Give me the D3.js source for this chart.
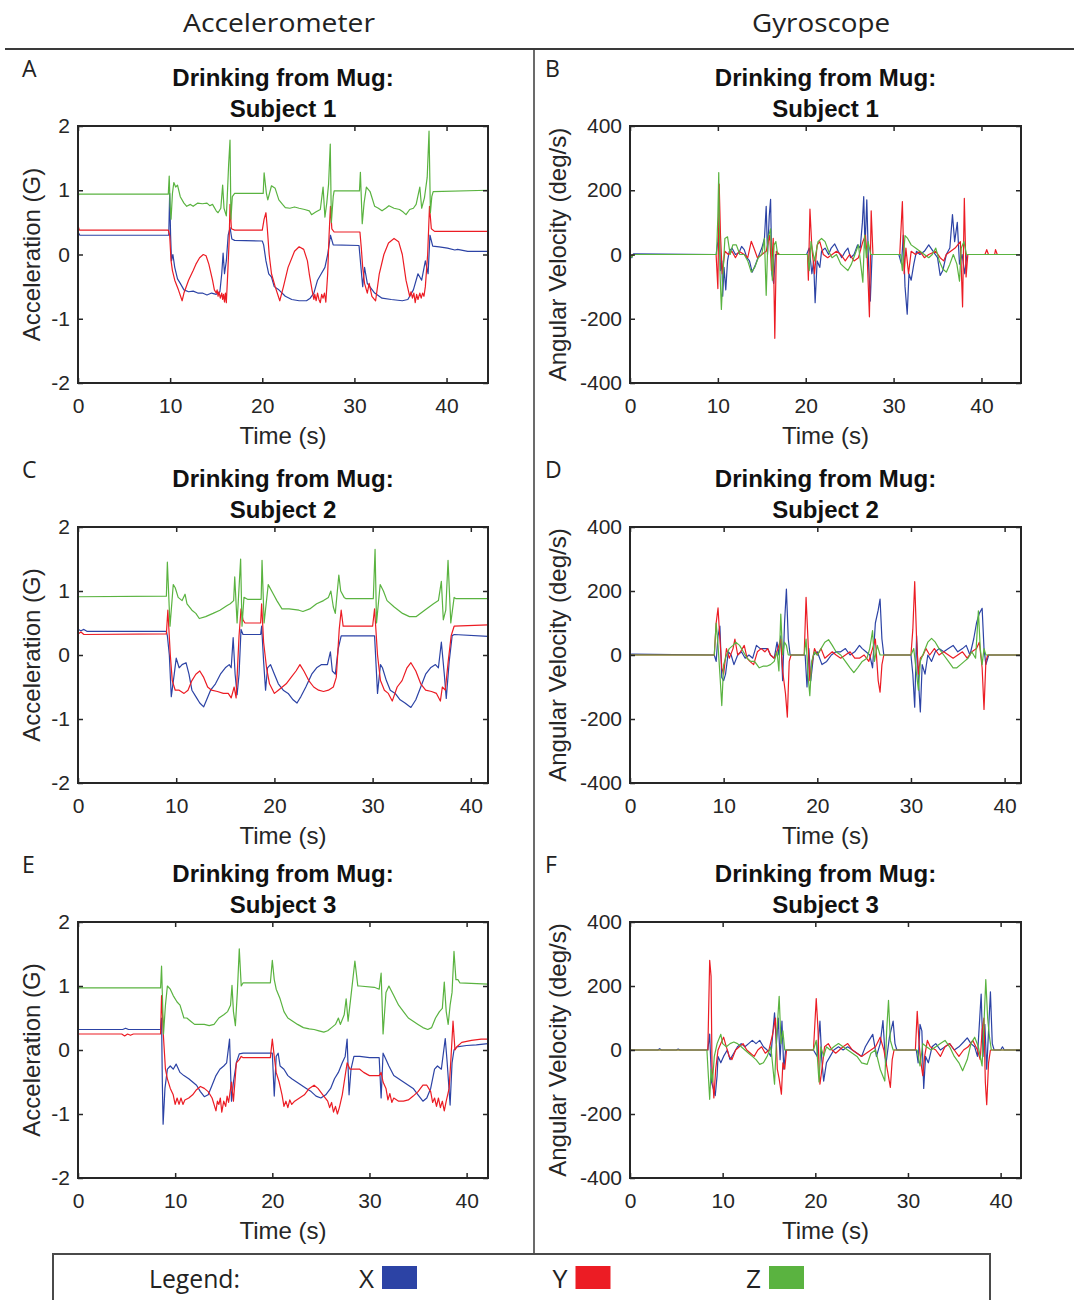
<!DOCTYPE html>
<html>
<head>
<meta charset="utf-8">
<script src="https://cdn.jsdelivr.net/npm/d3@7"></script>
<style>
  body { margin: 0; background: #fff; }
  svg { display: block; }
</style>
</head>
<body>
<div id="chart"></div>
<script>
// ---- data: [time (s), value] ----
const timeTicks = [0, 10, 20, 30, 40]
const accTicks = [-2, -1, 0, 1, 2]
const gyroTicks = [-400, -200, 0, 200, 400]
const subjects = ["Subject 1", "Subject 2", "Subject 3"]
const timeMax = [44.5, 41.75, 42.2]
const axisNames = ["X", "Y", "Z"]
const axisColours = ["#2c43a5", "#ec1c24", "#5ab340"]

// Subject 1 accelerometer (G)
const s1AccX = [[0,0.35],[0.2,0.3],[9.85,0.3],[9.95,0.95],[10.05,0.3],[10.15,-0.1],[10.3,0.0],[10.5,-0.2],[10.8,-0.38],[11.1,-0.45],[11.5,-0.55],[12,-0.58],[12.5,-0.57],[13,-0.6],[13.5,-0.6],[14,-0.63],[14.5,-0.6],[15,-0.62],[15.4,-0.58],[15.6,-0.3],[15.75,0.02],[15.9,-0.3],[16.1,-0.1],[16.3,0.3],[16.5,0.42],[16.7,0.24],[17,0.22],[20,0.21],[20.15,0.15],[20.4,-0.1],[20.7,-0.3],[21,-0.35],[21.3,-0.5],[21.8,-0.55],[22.5,-0.65],[23.2,-0.7],[24,-0.72],[24.8,-0.72],[25.2,-0.68],[25.6,-0.6],[26,-0.4],[26.4,-0.3],[26.8,-0.2],[27.1,0.0],[27.4,0.3],[27.7,0.15],[30.5,0.14],[30.65,-0.1],[30.9,-0.5],[31.1,-0.2],[31.4,-0.45],[32.2,-0.6],[33,-0.68],[34,-0.7],[35.2,-0.72],[35.8,-0.7],[36.4,-0.55],[36.9,-0.3],[37.3,-0.4],[37.7,-0.1],[38,-0.3],[38.2,0.3],[38.5,0.13],[39.2,0.12],[40.1,0.1],[40.9,0.07],[41.2,0.08],[42.3,0.05],[44.5,0.05]]
const s1AccY = [[0,0.45],[0.15,0.38],[9.8,0.38],[9.95,0.3],[10.1,-0.1],[10.25,-0.25],[10.5,-0.4],[10.9,-0.55],[11.3,-0.72],[11.5,-0.6],[12,-0.4],[12.5,-0.25],[12.8,-0.15],[13.2,-0.05],[13.6,0.0],[13.9,-0.02],[14.2,-0.15],[14.6,-0.4],[14.8,-0.55],[15,-0.6],[15.1,-0.55],[15.2,-0.65],[15.3,-0.58],[15.45,-0.68],[15.6,-0.6],[15.7,-0.7],[15.8,-0.62],[15.9,-0.74],[16,-0.6],[16.1,-0.75],[16.25,-0.3],[16.4,0.2],[16.5,0.78],[16.65,0.4],[17,0.38],[20,0.38],[20.2,0.55],[20.4,0.65],[20.55,0.4],[20.75,0.0],[21,-0.3],[21.4,-0.5],[21.9,-0.72],[22.3,-0.5],[22.8,-0.2],[23.5,0.05],[24,0.12],[24.5,0.08],[24.9,-0.1],[25.1,-0.3],[25.4,-0.55],[25.6,-0.7],[25.7,-0.62],[25.85,-0.72],[26,-0.6],[26.15,-0.7],[26.3,-0.75],[26.45,-0.62],[26.6,-0.68],[26.75,-0.6],[26.9,-0.74],[27.1,-0.3],[27.25,0.3],[27.4,0.75],[27.55,0.4],[27.8,0.35],[30.6,0.35],[30.75,0.1],[30.9,-0.2],[31.1,-0.45],[31.4,-0.6],[31.6,-0.45],[31.9,-0.65],[32.3,-0.72],[32.7,-0.3],[33.2,0.0],[33.7,0.18],[34.3,0.25],[34.8,0.2],[35.2,0.0],[35.6,-0.4],[36,-0.65],[36.15,-0.58],[36.3,-0.68],[36.45,-0.6],[36.6,-0.75],[36.75,-0.62],[36.9,-0.7],[37.1,-0.6],[37.25,-0.68],[37.4,-0.6],[37.55,-0.65],[37.7,-0.5],[37.95,0.0],[38.15,0.75],[38.35,0.4],[38.7,0.36],[44.5,0.36]]
const s1AccZ = [[0,0.9],[0.1,0.94],[9.8,0.94],[9.9,1.22],[10.0,0.75],[10.1,0.55],[10.25,0.95],[10.4,1.12],[10.6,1.05],[10.8,1.08],[11.1,0.9],[11.5,0.8],[11.8,0.75],[12.2,0.78],[12.5,0.75],[13,0.8],[13.5,0.79],[14,0.8],[14.3,0.76],[14.6,0.78],[15,0.68],[15.2,0.65],[15.5,0.72],[15.7,1.08],[15.85,0.72],[16.1,0.6],[16.2,0.9],[16.35,1.4],[16.5,1.78],[16.6,0.55],[16.75,0.9],[17,0.95],[20.1,0.95],[20.2,1.27],[20.45,0.95],[20.6,0.85],[21,1.07],[21.4,1.03],[21.8,0.85],[22.2,0.78],[22.5,0.73],[23,0.72],[23.5,0.74],[24,0.72],[24.6,0.7],[25.1,0.68],[25.35,0.62],[25.8,0.66],[26.3,0.7],[26.6,1.05],[26.8,0.58],[27.0,0.8],[27.2,1.1],[27.38,1.72],[27.5,0.5],[27.7,0.9],[27.8,0.99],[30.55,0.99],[30.65,1.28],[30.85,0.48],[31.05,0.8],[31.3,1.05],[31.7,0.98],[32.2,0.75],[32.6,0.72],[33,0.68],[33.4,0.72],[33.75,0.76],[34.3,0.72],[34.9,0.7],[35.3,0.66],[35.6,0.62],[36,0.7],[36.4,0.72],[36.7,0.78],[37.1,1.05],[37.3,0.72],[37.6,0.88],[37.9,1.2],[38.1,1.92],[38.25,0.65],[38.4,0.9],[38.55,0.98],[44.5,1.0]]

// Subject 1 gyroscope (deg/s)
const s1GyrX = [[0,0],[0.2,-10],[0.4,2],[9.8,0],[10.0,40],[10.15,80],[10.3,-50],[10.45,-20],[10.55,-130],[10.7,-40],[10.9,-110],[11.1,-20],[11.3,10],[11.6,20],[12,0],[12.4,5],[12.7,25],[13.0,15],[13.3,-10],[13.6,-20],[13.9,-55],[14.3,-30],[14.7,0],[15.0,20],[15.3,50],[15.5,150],[15.65,0],[15.85,120],[16.0,172],[16.15,-60],[16.35,-90],[16.55,0],[17,0],[20.1,0],[20.4,20],[20.7,-60],[20.9,-20],[21.07,-150],[21.3,-20],[21.6,-40],[21.8,10],[22.2,20],[22.6,0],[22.9,20],[23.3,33],[23.7,10],[24.1,-10],[24.5,10],[24.8,20],[25.1,-10],[25.5,0],[25.9,30],[26.2,20],[26.45,100],[26.6,180],[26.75,20],[26.95,170],[27.15,-30],[27.35,-145],[27.55,0],[30.6,0],[30.9,-30],[31.1,60],[31.3,-100],[31.55,-186],[31.75,-60],[32.0,-80],[32.3,-30],[32.6,10],[33.0,0],[33.5,10],[34.0,30],[34.5,10],[35.0,-10],[35.3,-65],[35.6,-50],[36.0,0],[36.4,20],[36.7,124],[36.95,40],[37.25,100],[37.5,-30],[37.8,0],[38.1,-60],[38.35,0],[44.5,0]]
const s1GyrY = [[0,0],[0.2,-6],[0.4,0],[9.8,0],[10.0,-106],[10.15,219],[10.3,60],[10.5,-60],[10.8,10],[11.2,0],[11.6,10],[12,-10],[12.4,10],[13,0],[13.4,-10],[13.8,41],[14.1,20],[14.5,-10],[15,0],[15.5,10],[15.9,60],[16.1,-50],[16.3,50],[16.48,-261],[16.65,10],[17,0],[20.2,0],[20.3,-80],[20.48,141],[20.7,20],[21.0,-60],[21.3,30],[21.6,40],[22,0],[22.5,-10],[23,0],[23.5,10],[24,0],[24.5,-20],[25,0],[25.5,-20],[26,-10],[26.5,40],[26.8,60],[27.0,-10],[27.25,-194],[27.45,136],[27.65,0],[30.7,0],[31.0,165],[31.2,-60],[31.4,20],[31.7,-60],[32,10],[32.5,0],[33,10],[33.5,-10],[34,0],[34.8,10],[35.3,-10],[35.7,-20],[36,0],[36.5,10],[37,20],[37.3,30],[37.6,40],[37.85,-163],[38.05,175],[38.25,-70],[38.45,0],[40.4,0],[40.6,15],[40.8,0],[41.5,0],[41.6,15],[41.8,0],[44.5,0]]
const s1GyrZ = [[0,0],[0.2,-8],[0.4,0],[9.85,0],[10.0,120],[10.1,255],[10.25,-60],[10.4,-171],[10.6,-50],[10.8,50],[11.1,55],[11.4,0],[11.7,30],[12.1,30],[12.5,0],[13,0],[13.4,-20],[13.8,-55],[14.2,-40],[14.6,-10],[15,0],[15.3,50],[15.5,-127],[15.7,50],[16.0,80],[16.2,-80],[16.4,30],[16.6,40],[16.8,0],[20.2,0],[20.4,-50],[20.6,40],[21,-20],[21.4,40],[21.8,50],[22.2,40],[22.6,10],[23,-10],[23.5,0],[24,-30],[24.4,-40],[24.8,-50],[25.2,-30],[25.6,0],[26,30],[26.5,-86],[26.7,60],[26.9,-10],[27.1,40],[27.4,0],[30.8,0],[31.0,-50],[31.3,59],[31.6,50],[32,30],[32.5,20],[33,10],[33.5,0],[34,-10],[34.4,0],[34.8,20],[35.2,-20],[35.6,-45],[36,-55],[36.4,-30],[36.8,0],[37.2,-30],[37.5,-83],[37.7,20],[38.0,40],[38.3,0],[44.5,0]]

// Subject 2 accelerometer (G)
const s2AccX = [[0,0.4],[0.3,0.38],[0.6,0.4],[0.9,0.37],[9.0,0.37],[9.1,0.3],[9.3,0.0],[9.5,-0.65],[9.8,-0.3],[10.0,-0.05],[10.3,-0.2],[10.6,-0.15],[11.0,-0.12],[11.3,-0.3],[11.6,-0.55],[12.0,-0.65],[12.4,-0.75],[12.8,-0.81],[13.1,-0.7],[13.5,-0.55],[14.0,-0.45],[14.5,-0.3],[15.0,-0.2],[15.4,-0.15],[15.6,-0.2],[15.8,0.27],[16.0,-0.3],[16.2,-0.62],[16.4,-0.3],[16.6,0.4],[16.8,0.32],[18.6,0.32],[18.7,0.45],[18.9,-0.1],[19.1,-0.55],[19.3,-0.2],[19.6,-0.15],[20.0,-0.3],[20.4,-0.45],[20.9,-0.55],[21.4,-0.6],[21.9,-0.7],[22.3,-0.75],[22.7,-0.65],[23.2,-0.5],[23.8,-0.3],[24.3,-0.2],[24.8,-0.15],[25.4,-0.15],[25.7,0.05],[25.9,-0.25],[26.2,-0.3],[26.5,0.1],[26.8,0.3],[30.0,0.3],[30.2,0.3],[30.5,-0.6],[30.8,-0.15],[31.0,-0.2],[31.4,-0.4],[31.8,-0.55],[32.3,-0.6],[32.8,-0.7],[33.3,-0.75],[33.9,-0.82],[34.4,-0.7],[34.9,-0.5],[35.4,-0.3],[35.9,-0.2],[36.4,-0.15],[36.7,-0.2],[37.0,0.2],[37.3,-0.3],[37.5,-0.68],[37.8,-0.1],[38.1,0.3],[38.3,0.32],[41.75,0.29]]
const s2AccY = [[0,0.33],[0.3,0.36],[0.6,0.32],[9.0,0.33],[9.15,0.7],[9.4,0.0],[9.6,-0.4],[9.9,-0.55],[10.3,-0.55],[10.8,-0.6],[11.2,-0.55],[11.6,-0.4],[12.0,-0.3],[12.4,-0.25],[12.8,-0.35],[13.2,-0.5],[13.6,-0.55],[14.2,-0.57],[14.8,-0.6],[15.3,-0.6],[15.6,-0.67],[15.9,-0.5],[16.1,-0.67],[16.4,0.3],[16.6,0.72],[16.8,0.55],[17.0,0.5],[18.6,0.5],[18.7,0.8],[18.9,0.2],[19.2,-0.2],[19.5,-0.45],[20.0,-0.6],[20.4,-0.55],[20.8,-0.5],[21.2,-0.45],[21.7,-0.35],[22.2,-0.25],[22.6,-0.15],[23.0,-0.25],[23.5,-0.4],[24.0,-0.5],[24.5,-0.55],[25.0,-0.57],[25.5,-0.55],[26.0,-0.5],[26.3,-0.35],[26.6,0.4],[26.8,0.7],[27.0,0.45],[30.0,0.45],[30.2,0.72],[30.5,0.0],[30.8,-0.4],[31.2,-0.55],[31.6,-0.6],[32.0,-0.72],[32.5,-0.5],[33.0,-0.4],[33.5,-0.2],[33.9,-0.12],[34.4,-0.25],[34.9,-0.45],[35.4,-0.55],[36.0,-0.57],[36.5,-0.6],[36.9,-0.72],[37.1,-0.5],[37.4,-0.55],[37.7,-0.1],[38.0,0.3],[38.3,0.45],[41.75,0.47]]
const s2AccZ = [[0,0.91],[9.0,0.92],[9.1,1.45],[9.37,0.45],[9.7,1.1],[9.9,1.05],[10.2,0.9],[10.6,0.85],[10.9,0.95],[11.1,0.8],[11.6,0.7],[12.0,0.65],[12.35,0.57],[13.0,0.6],[13.75,0.65],[14.45,0.7],[15.15,0.77],[15.5,0.8],[15.85,0.85],[15.96,1.22],[16.2,0.5],[16.56,1.5],[16.7,0.45],[16.9,0.9],[17.26,0.87],[18.65,0.87],[18.74,1.48],[18.95,0.5],[19.37,1.1],[19.9,0.95],[20.25,0.85],[20.77,0.72],[21.5,0.72],[22.5,0.7],[22.9,0.68],[23.6,0.72],[24.3,0.8],[25.0,0.85],[25.5,0.9],[25.75,1.0],[26.0,0.75],[26.2,0.65],[26.56,1.25],[26.75,1.0],[27.1,0.9],[27.3,0.88],[30.07,0.88],[30.25,1.65],[30.4,0.5],[30.77,1.1],[31.1,1.0],[31.47,0.85],[32.2,0.75],[33.05,0.65],[33.75,0.6],[34.45,0.6],[35.3,0.7],[36.2,0.8],[36.7,0.85],[37.0,1.15],[37.2,0.55],[37.45,0.7],[37.68,1.48],[37.96,0.5],[38.3,0.9],[38.5,0.88],[41.75,0.88]]

// Subject 2 gyroscope (deg/s)
const s2GyrX = [[0,0],[0.2,3],[9.0,0],[9.2,-20],[9.4,60],[9.6,90],[9.8,-70],[10.0,-80],[10.2,-60],[10.5,10],[10.8,0],[11.1,-30],[11.5,0],[11.9,10],[12.3,-10],[12.7,0],[13.1,-10],[13.5,30],[13.9,20],[14.3,20],[14.7,20],[15.0,0],[15.4,-10],[15.7,40],[15.9,0],[16.1,60],[16.3,-80],[16.5,100],[16.7,206],[16.9,50],[17.1,0],[18.7,0],[18.9,-100],[19.1,20],[19.3,-80],[19.6,0],[20.0,10],[20.5,-30],[21,-20],[21.5,0],[22,10],[22.5,10],[23,20],[23.5,0],[24,10],[24.5,30],[24.8,20],[25.2,10],[25.6,0],[25.9,-40],[26.2,100],[26.5,140],[26.7,175],[26.9,50],[27.1,0],[30.0,0],[30.2,-60],[30.4,-163],[30.6,60],[30.8,-80],[31.0,-178],[31.2,-30],[31.5,-60],[31.8,0],[32.2,-20],[32.6,10],[33,20],[33.5,10],[34,20],[34.5,30],[35,10],[35.5,20],[35.9,30],[36.3,0],[36.7,50],[37,100],[37.3,130],[37.6,146],[37.8,20],[38,-30],[38.3,0],[41.75,0]]
const s2GyrY = [[0,0],[9.0,0],[9.2,100],[9.4,147],[9.6,50],[9.8,-40],[10.0,-60],[10.3,20],[10.6,-10],[11.0,20],[11.2,50],[11.5,0],[11.8,10],[12.2,30],[12.5,-10],[12.8,-20],[13.2,-30],[13.6,10],[14.0,20],[14.4,10],[14.7,20],[15.0,0],[15.4,-10],[15.8,20],[16.1,50],[16.3,-50],[16.6,-120],[16.8,-194],[17.0,-20],[17.2,0],[18.6,0],[18.8,180],[19.0,50],[19.2,-80],[19.4,-30],[19.7,20],[20.0,0],[20.4,20],[20.8,-10],[21.2,0],[21.6,10],[22.0,0],[22.5,-10],[23,0],[23.5,10],[24,-10],[24.5,-10],[25,0],[25.5,-20],[25.9,20],[26.2,50],[26.5,-80],[26.7,-116],[26.9,-30],[27.1,0],[30.0,0],[30.2,80],[30.4,229],[30.6,50],[30.8,-60],[31.0,-10],[31.3,0],[31.6,20],[32.0,0],[32.5,20],[33,0],[33.5,10],[34,0],[34.5,-10],[35,0],[35.5,10],[36,-10],[36.5,10],[37,20],[37.3,40],[37.6,-40],[37.8,-170],[38,-20],[38.2,0],[41.75,0]]
const s2GyrZ = [[0,0],[9.0,0],[9.2,100],[9.4,30],[9.6,-60],[9.8,-158],[10.0,-30],[10.3,0],[10.6,20],[11,30],[11.3,40],[11.7,30],[12.1,10],[12.5,-10],[12.9,-20],[13.3,-20],[13.8,-40],[14.2,-35],[14.6,-35],[15.0,-30],[15.4,-20],[15.7,10],[15.9,-50],[16.1,128],[16.3,0],[16.5,40],[16.7,30],[16.9,0],[18.6,0],[18.8,50],[19.0,-60],[19.2,-127],[19.4,-20],[19.7,10],[20.0,0],[20.4,20],[20.8,40],[21.2,48],[21.6,30],[22,10],[22.5,0],[23,-20],[23.5,-40],[23.9,-55],[24.3,-40],[24.8,-20],[25.3,-10],[25.6,20],[25.9,76],[26.1,-20],[26.4,30],[26.7,0],[30.0,0],[30.3,20],[30.6,-60],[30.8,-110],[31.0,-20],[31.4,10],[31.8,40],[32.2,52],[32.6,40],[33,20],[33.5,0],[34,-20],[34.5,-40],[34.9,-40],[35.3,-30],[35.7,-20],[36.1,-10],[36.5,10],[36.9,-10],[37.2,138],[37.4,20],[37.6,-30],[37.8,20],[38,0],[41.75,0]]

// Subject 3 accelerometer (G)
const s3AccX = [[0,0.32],[4.6,0.32],[4.9,0.34],[5.2,0.32],[8.5,0.32],[8.6,0.5],[8.68,-0.5],[8.76,-1.16],[8.95,-0.6],[9.2,-0.3],[9.5,-0.25],[9.8,-0.3],[10.1,-0.22],[10.5,-0.35],[10.9,-0.4],[11.4,-0.45],[11.8,-0.5],[12.2,-0.55],[12.6,-0.65],[13.0,-0.73],[13.4,-0.7],[13.8,-0.55],[14.2,-0.4],[14.6,-0.3],[15.0,-0.25],[15.3,-0.2],[15.6,0.17],[15.8,-0.8],[16.0,-0.5],[16.3,-0.2],[16.6,-0.06],[17.0,-0.05],[20.0,-0.05],[20.2,-0.72],[20.4,-0.1],[20.6,-0.05],[20.8,-0.25],[21.2,-0.3],[21.6,-0.4],[22.0,-0.45],[22.5,-0.5],[23.0,-0.55],[23.5,-0.6],[24.0,-0.65],[24.5,-0.72],[25.0,-0.75],[25.5,-0.7],[26.0,-0.6],[26.4,-0.45],[26.8,-0.35],[27.2,-0.2],[27.5,-0.1],[27.7,0.17],[27.9,-0.7],[28.1,-0.3],[28.4,-0.1],[29.0,-0.1],[30.0,-0.12],[31.0,-0.12],[31.2,-0.75],[31.4,-0.05],[31.7,-0.15],[32.0,-0.25],[32.5,-0.4],[33.0,-0.45],[33.5,-0.5],[34.0,-0.55],[34.5,-0.6],[35.0,-0.7],[35.5,-0.8],[35.9,-0.75],[36.3,-0.6],[36.7,-0.3],[37.0,-0.25],[37.4,-0.3],[37.8,0.18],[38.0,-0.2],[38.3,-0.86],[38.5,-0.2],[38.7,0.0],[39.0,0.05],[40,0.07],[41,0.08],[42.2,0.1]]
const s3AccY = [[0,0.25],[4.5,0.25],[4.8,0.22],[5.1,0.25],[5.4,0.23],[5.7,0.25],[8.5,0.25],[8.6,0.85],[8.8,0.2],[9.0,-0.3],[9.2,-0.45],[9.5,-0.6],[9.8,-0.7],[10.0,-0.85],[10.2,-0.75],[10.4,-0.85],[10.6,-0.75],[10.8,-0.85],[11.0,-0.78],[11.4,-0.75],[11.8,-0.7],[12.2,-0.62],[12.6,-0.57],[13.0,-0.6],[13.4,-0.65],[13.8,-0.75],[14.0,-0.85],[14.2,-0.95],[14.35,-0.8],[14.5,-0.85],[14.65,-0.75],[14.8,-0.97],[15.0,-0.8],[15.2,-0.88],[15.35,-0.72],[15.5,-0.82],[15.8,-0.5],[16.0,-0.8],[16.3,-0.2],[16.6,-0.15],[16.8,-0.1],[17.0,-0.12],[19.8,-0.12],[20.0,0.17],[20.2,-0.1],[20.4,-0.35],[20.7,-0.5],[21.0,-0.7],[21.2,-0.88],[21.4,-0.8],[21.6,-0.9],[21.8,-0.78],[22.0,-0.85],[22.3,-0.8],[22.8,-0.75],[23.3,-0.7],[23.8,-0.6],[24.3,-0.55],[24.7,-0.6],[25.2,-0.7],[25.7,-0.8],[25.9,-0.9],[26.1,-0.82],[26.3,-0.97],[26.5,-0.88],[26.7,-1.0],[26.9,-0.9],[27.2,-0.7],[27.4,-0.5],[27.7,-0.2],[28.0,-0.3],[28.5,-0.3],[29.0,-0.3],[29.4,-0.35],[30.0,-0.4],[30.5,-0.4],[31.0,-0.4],[31.2,-0.35],[31.4,-0.5],[31.7,-0.6],[31.9,-0.78],[32.1,-0.68],[32.3,-0.82],[32.5,-0.75],[33.0,-0.8],[33.5,-0.8],[34.0,-0.78],[34.5,-0.72],[35.0,-0.65],[35.5,-0.55],[35.9,-0.55],[36.3,-0.65],[36.5,-0.82],[36.7,-0.75],[36.9,-0.88],[37.1,-0.75],[37.3,-0.9],[37.5,-0.8],[37.7,-0.95],[37.9,-0.8],[38.2,-0.6],[38.4,-0.1],[38.6,0.45],[38.8,0.0],[39.0,0.05],[39.5,0.12],[40.5,0.15],[41.5,0.17],[42.2,0.17]]
const s3AccZ = [[0,0.97],[8.5,0.97],[8.6,1.31],[8.8,0.25],[9.0,0.7],[9.2,1.0],[9.5,0.95],[9.8,0.85],[10.2,0.75],[10.5,0.7],[10.9,0.5],[11.2,0.5],[11.6,0.45],[12.0,0.4],[12.5,0.4],[13.0,0.4],[13.5,0.38],[14.0,0.4],[14.5,0.5],[15.0,0.55],[15.4,0.6],[15.7,0.7],[15.85,1.01],[16.0,0.6],[16.2,0.38],[16.4,0.9],[16.6,1.58],[16.8,1.0],[17.0,1.05],[19.8,1.05],[20.0,1.4],[20.2,1.1],[20.4,0.95],[20.8,0.8],[21.2,0.6],[21.6,0.5],[22.1,0.45],[22.6,0.4],[23.2,0.35],[23.8,0.33],[24.3,0.32],[24.8,0.3],[25.3,0.28],[25.7,0.3],[26.1,0.35],[26.5,0.4],[26.8,0.5],[27.0,0.4],[27.4,0.55],[27.6,0.8],[27.8,0.45],[28.1,0.85],[28.5,1.39],[28.8,1.0],[29.0,1.0],[30.5,0.98],[31.0,0.95],[31.2,1.2],[31.4,0.25],[31.7,0.9],[32.0,1.0],[32.5,0.85],[33.0,0.7],[33.5,0.6],[34.0,0.5],[34.5,0.45],[35.0,0.4],[35.5,0.35],[36.0,0.32],[36.4,0.35],[36.8,0.5],[37.2,0.6],[37.5,0.65],[37.7,1.06],[37.9,0.6],[38.1,0.4],[38.3,0.7],[38.5,0.9],[38.7,1.54],[38.9,1.1],[39.1,1.1],[39.3,1.05],[42.2,1.03]]

// Subject 3 gyroscope (deg/s)
const s3GyrX = [[0,0],[3,0],[3.2,4],[3.4,0],[5,0],[5.2,3],[5.4,0],[8.4,0],[8.6,50],[8.8,-100],[9.2,-143],[9.4,-80],[9.5,-20],[9.8,-40],[10.1,-20],[10.5,0],[10.8,-30],[11.2,-10],[11.6,10],[12.0,20],[12.4,10],[12.8,20],[13.2,30],[13.6,20],[14.0,30],[14.4,10],[14.8,0],[15.2,-20],[15.6,116],[15.8,20],[16.0,100],[16.2,-30],[16.4,90],[16.6,-60],[16.8,0],[19.8,0],[20.2,-20],[20.5,90],[20.7,-30],[20.9,-97],[21.2,-40],[21.6,-20],[22,0],[22.5,10],[23,0],[23.5,10],[24,0],[24.5,-10],[25.0,-20],[25.4,10],[25.8,30],[26.2,49],[26.6,-20],[27.0,20],[27.3,92],[27.6,-50],[28.0,40],[28.4,90],[28.6,20],[28.8,0],[30.9,0],[31.1,-40],[31.3,80],[31.5,60],[31.7,-120],[31.9,-20],[32.2,-40],[32.6,10],[33,20],[33.5,0],[34,10],[34.5,20],[35.0,0],[35.5,10],[36,25],[36.4,38],[36.8,20],[37.2,10],[37.5,-20],[37.9,175],[38.1,-20],[38.3,80],[38.5,-60],[38.9,182],[39.1,20],[39.3,0],[40,0],[40.2,10],[40.4,0],[42.2,0]]
const s3GyrY = [[0,0],[8.4,0],[8.6,280],[8.75,230],[8.85,-50],[9.05,-150],[9.25,-60],[9.5,0],[9.8,20],[10.1,40],[10.4,10],[10.7,-20],[11.0,-30],[11.4,0],[11.8,10],[12.2,20],[12.6,0],[13.0,-10],[13.4,-20],[13.8,0],[14.2,10],[14.6,-10],[15.0,0],[15.4,50],[15.7,100],[15.9,-60],[16.1,-90],[16.34,-138],[16.5,-40],[16.7,-60],[16.9,0],[19.8,0],[20.1,161],[20.3,60],[20.4,-60],[20.5,-107],[20.8,-40],[21.0,10],[21.4,20],[21.8,0],[22.2,-10],[22.6,0],[23.0,10],[23.5,20],[24,0],[24.5,-10],[25,-20],[25.5,-10],[26,0],[26.5,10],[27.0,40],[27.4,0],[27.7,-50],[28.1,-117],[28.3,-30],[28.5,0],[30.8,0],[31.0,121],[31.2,20],[31.4,-40],[31.6,-80],[31.8,-20],[32.1,30],[32.4,10],[33,0],[33.5,-20],[34,10],[34.5,20],[35,0],[35.5,-20],[36,0],[36.5,10],[37,30],[37.5,0],[37.8,-30],[38.0,60],[38.2,100],[38.35,-100],[38.5,-171],[38.7,-40],[38.9,0],[42.2,0]]
const s3GyrZ = [[0,0],[8.3,0],[8.6,-154],[8.75,-60],[8.9,-100],[9.1,-20],[9.4,20],[9.8,49],[10.0,20],[10.4,10],[10.8,20],[11.2,25],[11.6,20],[12.0,10],[12.4,0],[12.8,-10],[13.2,-20],[13.6,-30],[14.0,-45],[14.4,-40],[14.8,-20],[15.2,10],[15.6,-107],[15.8,30],[16.1,168],[16.3,20],[16.5,60],[16.7,0],[19.8,0],[20.1,30],[20.4,-100],[20.6,10],[20.9,-20],[21.2,10],[21.6,0],[22,10],[22.5,20],[23,10],[23.5,0],[24,-10],[24.5,-20],[25.0,-40],[25.6,-45],[26,-10],[26.5,0],[27.0,-60],[27.5,-97],[27.7,60],[27.9,155],[28.1,30],[28.4,0],[31.0,0],[31.3,-50],[31.6,20],[32,10],[32.5,0],[33,10],[33.5,20],[34,30],[34.5,10],[35,-20],[35.5,-40],[35.9,-65],[36.4,-30],[36.8,20],[37.2,40],[37.6,10],[38.0,-50],[38.2,80],[38.4,220],[38.6,100],[38.8,40],[39.0,0],[42.2,0]]

const accSeries = [[s1AccX, s1AccY, s1AccZ], [s2AccX, s2AccY, s2AccZ], [s3AccX, s3AccY, s3AccZ]]
const gyroSeries = [[s1GyrX, s1GyrY, s1GyrZ], [s2GyrX, s2GyrY, s2GyrZ], [s3GyrX, s3GyrY, s3GyrZ]]
const letters = [["A", "B"], ["C", "D"], ["E", "F"]]

// ---- layout ----
const width = 1074, height = 1300
const ink = "#262626"
const arial = "'Liberation Sans', Arimo, Arial, Helvetica, sans-serif"
const myriad = "'Open Sans', 'Noto Sans', sans-serif"
const rows = [{ top: 126, bottom: 383 }, { top: 527, bottom: 783 }, { top: 922, bottom: 1178 }]
const cols = [
    { left: 78, right: 488, ticks: accTicks, label: "Acceleration (G)", labelOff: 38, letterOff: 56, series: accSeries },
    { left: 630, right: 1021, ticks: gyroTicks, label: "Angular Velocity (deg/s)", labelOff: 64, letterOff: 85, series: gyroSeries }
]

const svg = d3.select("#chart").append("svg")
    .attr("width", width)
    .attr("height", height)
    .attr("viewBox", [0, 0, width, height])

// column headers and dividers
svg.append("line").attr("x1", 5).attr("x2", width).attr("y1", 49).attr("y2", 49)
    .attr("stroke", "#3a3a3a").attr("stroke-width", 2)
svg.append("line").attr("x1", 534).attr("x2", 534).attr("y1", 49).attr("y2", 1254)
    .attr("stroke", "#3a3a3a").attr("stroke-width", 1.5)

svg.append("text").attr("x", 183).attr("y", 32).attr("font-family", myriad).attr("font-size", 26)
    .attr("textLength", 192).attr("lengthAdjust", "spacingAndGlyphs").attr("fill", "#222").text("Accelerometer")
svg.append("text").attr("x", 752).attr("y", 32).attr("font-family", myriad).attr("font-size", 26)
    .attr("textLength", 138).attr("lengthAdjust", "spacingAndGlyphs").attr("fill", "#222").text("Gyroscope")

let clipId = 0

function drawPanel(row, col, subjectIndex, letter) {
    const { top, bottom } = row
    const { left, right, ticks } = col
    const x = d3.scaleLinear([0, timeMax[subjectIndex]], [left, right])
    const y = d3.scaleLinear([ticks[0], ticks[ticks.length - 1]], [bottom, top])
    const g = svg.append("g")

    // data lines, X then Y then Z on top
    const id = "clip" + (clipId++)
    g.append("clipPath").attr("id", id).append("rect")
        .attr("x", left).attr("y", top).attr("width", right - left).attr("height", bottom - top)
    const line = d3.line().x(d => x(d[0])).y(d => y(d[1]))
    g.append("g").attr("clip-path", `url(#${id})`)
        .selectAll("path")
        .data(col.series[subjectIndex])
        .join("path")
        .attr("fill", "none")
        .attr("stroke", (d, i) => axisColours[i])
        .attr("stroke-width", 1.2)
        .attr("stroke-linejoin", "round")
        .attr("d", line)

    // axes, ticks pointing inward like MATLAB
    const fmt = d => String(d)
    const styleAxis = sel => {
        sel.select(".domain").remove()
        sel.selectAll(".tick line").attr("stroke", ink).attr("stroke-width", 1.5)
        sel.selectAll(".tick text").attr("fill", ink).attr("font-family", arial).attr("font-size", 21)
    }
    g.append("g").attr("transform", `translate(0,${bottom})`)
        .call(d3.axisBottom(x).tickValues(timeTicks).tickFormat(fmt).tickSizeInner(-5).tickSizeOuter(0).tickPadding(15))
        .call(styleAxis)
    g.append("g").attr("transform", `translate(0,${top})`)
        .call(d3.axisTop(x).tickValues(timeTicks).tickFormat("").tickSizeInner(-5).tickSizeOuter(0))
        .call(styleAxis)
    g.append("g").attr("transform", `translate(${left},0)`)
        .call(d3.axisLeft(y).tickValues(ticks).tickFormat(fmt).tickSizeInner(-5).tickSizeOuter(0).tickPadding(8))
        .call(styleAxis)
    g.append("g").attr("transform", `translate(${right},0)`)
        .call(d3.axisRight(y).tickValues(ticks).tickFormat("").tickSizeInner(-5).tickSizeOuter(0))
        .call(styleAxis)

    g.append("rect")
        .attr("x", left).attr("y", top).attr("width", right - left).attr("height", bottom - top)
        .attr("fill", "none").attr("stroke", ink).attr("stroke-width", 2)

    // titles and labels
    const cx = (left + right) / 2
    g.append("text").attr("x", cx).attr("y", top - 40).attr("text-anchor", "middle")
        .attr("font-family", arial).attr("font-weight", "bold").attr("font-size", 24).attr("fill", "#111")
        .text("Drinking from Mug:")
    g.append("text").attr("x", cx).attr("y", top - 9).attr("text-anchor", "middle")
        .attr("font-family", arial).attr("font-weight", "bold").attr("font-size", 24).attr("fill", "#111")
        .text(subjects[subjectIndex])
    g.append("text").attr("x", cx).attr("y", bottom + 61).attr("text-anchor", "middle")
        .attr("font-family", arial).attr("font-size", 24).attr("fill", ink)
        .text("Time (s)")
    g.append("text")
        .attr("transform", `translate(${left - col.labelOff},${(top + bottom) / 2}) rotate(-90)`)
        .attr("text-anchor", "middle")
        .attr("font-family", arial).attr("font-size", 24).attr("fill", ink)
        .text(col.label)
    g.append("text").attr("x", left - col.letterOff).attr("y", top - 49)
        .attr("font-family", myriad).attr("font-size", 23).attr("fill", "#222")
        .text(letter)
}

rows.forEach((row, r) => {
    cols.forEach((col, c) => drawPanel(row, col, r, letters[r][c]))
})

// legend
const legend = svg.append("g")
legend.append("rect").attr("x", 53).attr("y", 1254).attr("width", 937).attr("height", 80)
    .attr("fill", "none").attr("stroke", "#4a4a4a").attr("stroke-width", 2)
legend.append("text").attr("x", 149).attr("y", 1288).attr("font-family", myriad).attr("font-size", 25)
    .attr("textLength", 91).attr("lengthAdjust", "spacingAndGlyphs").attr("fill", "#222").text("Legend:")
const legendX = d3.scalePoint(axisNames, [359, 746])
const item = legend.selectAll("g.item").data(axisNames).join("g").attr("class", "item")
    .attr("transform", d => `translate(${legendX(d)},0)`)
item.append("text").attr("x", 0).attr("y", 1288).attr("font-family", myriad).attr("font-size", 25)
    .attr("textLength", 15).attr("lengthAdjust", "spacingAndGlyphs").attr("fill", "#222").text(d => d)
item.append("rect").attr("x", 23).attr("y", 1266).attr("width", 35).attr("height", 23)
    .attr("fill", (d, i) => axisColours[i])
</script>
</body>
</html>
